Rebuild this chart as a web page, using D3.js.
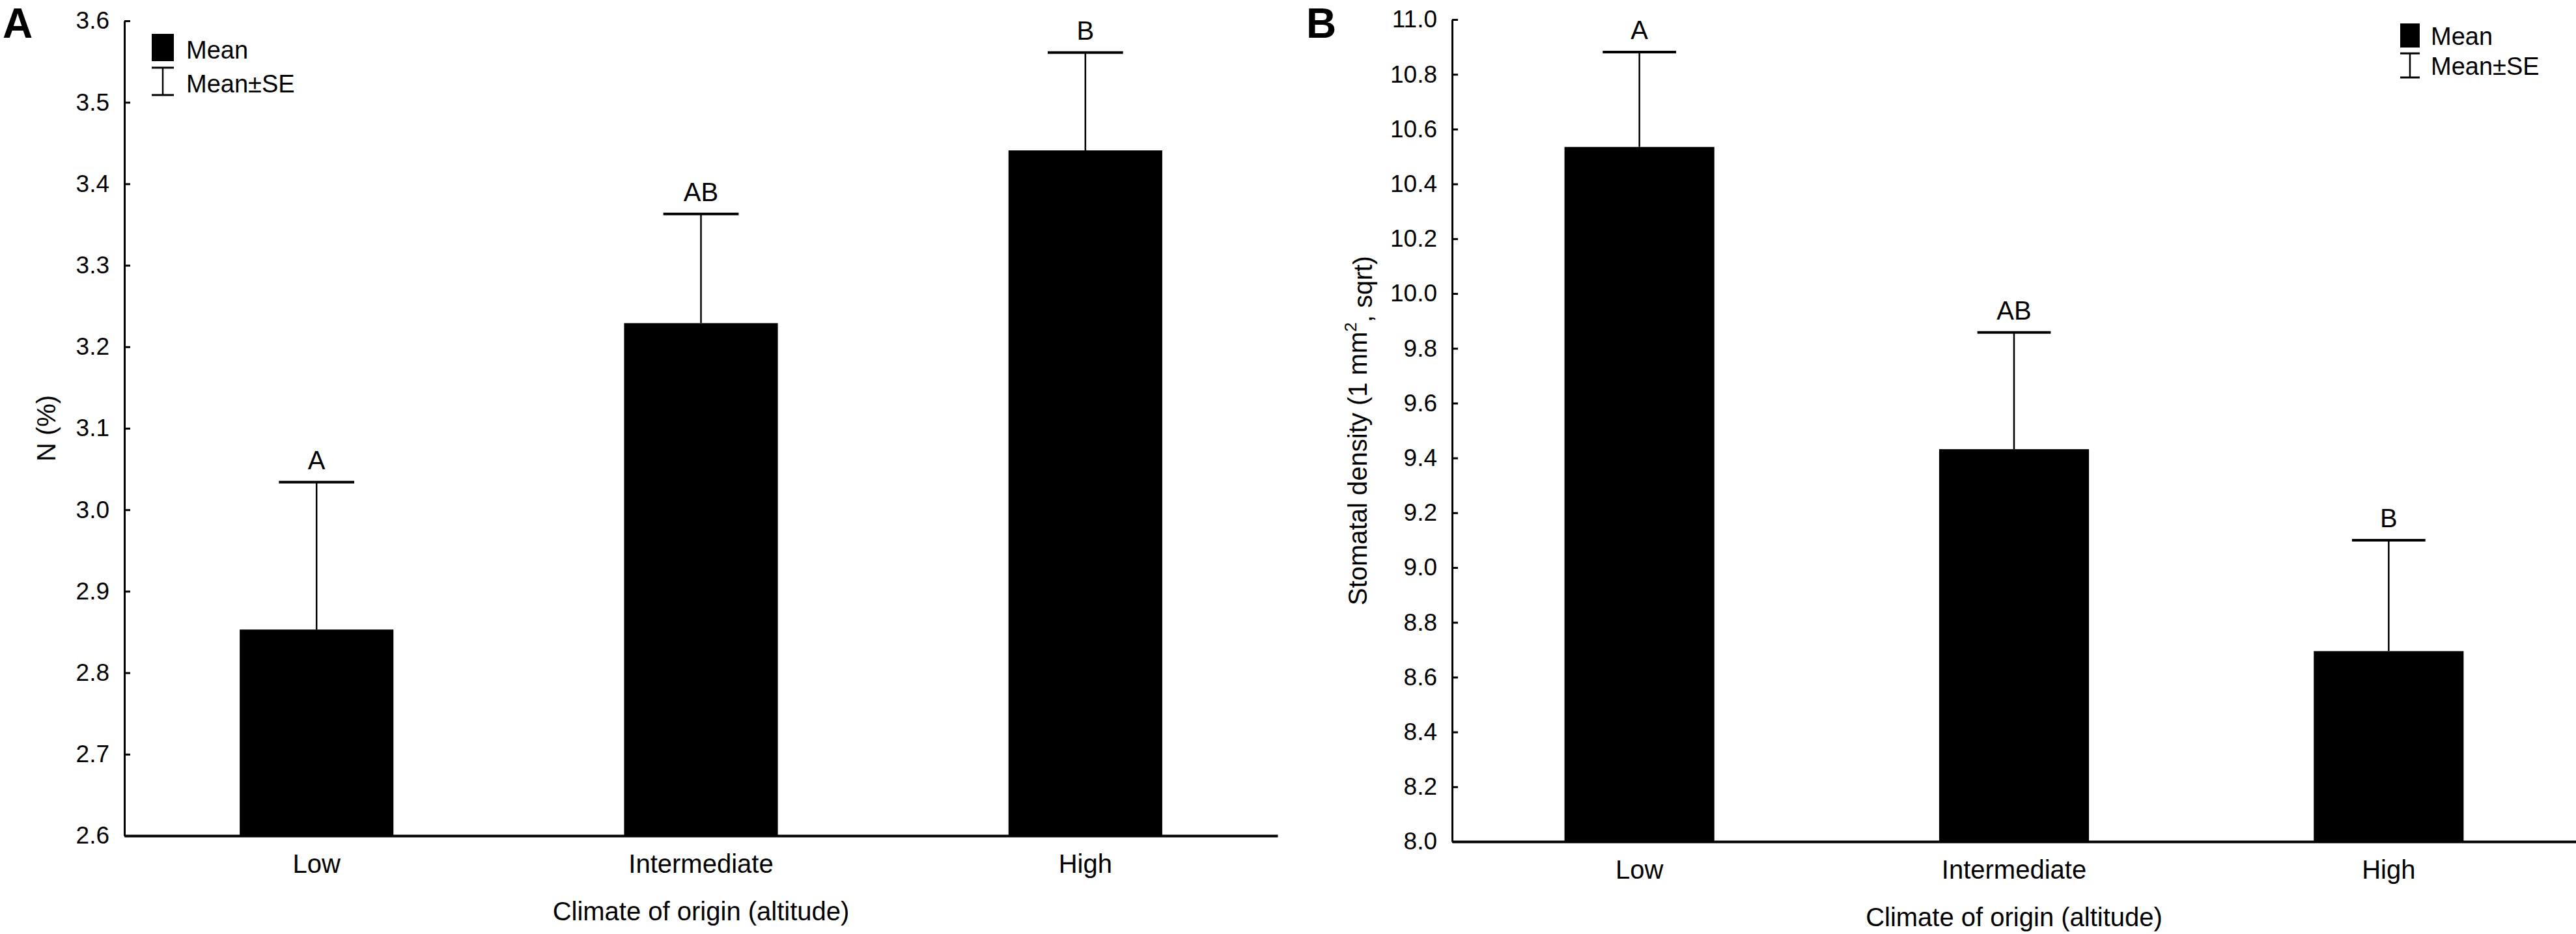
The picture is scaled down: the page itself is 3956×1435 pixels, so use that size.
<!DOCTYPE html>
<html>
<head>
<meta charset="utf-8">
<script src="https://cdn.jsdelivr.net/npm/d3@7"></script>
<style>
  body { margin: 0; background: #fff; }
  text { font-family: "Liberation Sans", Arial, sans-serif; fill: #000; }
</style>
</head>
<body>
<div id="chart"></div>
<script>
// categories shared by both panels
const categories = ["Low", "Intermediate", "High"];

// panel A: leaf nitrogen
const nMean = [2.853, 3.229, 3.441];
const nSE = [0.181, 0.134, 0.120];
const nLetters = ["A", "AB", "B"];
const nTicks = [2.6, 2.7, 2.8, 2.9, 3.0, 3.1, 3.2, 3.3, 3.4, 3.5, 3.6];

// panel B: stomatal density
const sdMean = [10.535, 9.432, 8.695];
const sdSE = [0.346, 0.426, 0.405];
const sdLetters = ["A", "AB", "B"];
const sdTicks = [8.0, 8.2, 8.4, 8.6, 8.8, 9.0, 9.2, 9.4, 9.6, 9.8, 10.0, 10.2, 10.4, 10.6, 10.8, 11.0];

const W = 3956, H = 1435;

const svg = d3.select("#chart")
    .append("svg")
    .attr("width", W)
    .attr("height", H);

const panels = [
    {
        tag: "A", mean: nMean, se: nSE, letters: nLetters, ticks: nTicks,
        left: 191, right: 1962, top: 32, bottom: 1284,
        tagX: 4, tagY: 58, ytitleX: 71,
        ytitle: [{t: "N (%)"}],
        legend: {x: 233, y: 52, w: 34, h: 42, gap: 10, tx: 286}
    },
    {
        tag: "B", mean: sdMean, se: sdSE, letters: sdLetters, ticks: sdTicks,
        left: 2230, right: 3956, top: 30, bottom: 1293,
        tagX: 2006, tagY: 58, ytitleX: 2085,
        ytitle: [{t: "Stomatal density (1 mm"}, {t: "2", sup: true}, {t: ", sqrt)"}],
        legend: {x: 3686, y: 36, w: 30, h: 37, gap: 9, tx: 3733}
    }
];

panels.forEach(function(p) {
    const g = svg.append("g");

    const x = d3.scaleBand()
        .domain(categories)
        .range([p.left, p.right])
        .paddingInner(0.6)
        .paddingOuter(0.3);

    const y = d3.scaleLinear()
        .domain([p.ticks[0], p.ticks[p.ticks.length - 1]])
        .range([p.bottom, p.top]);

    const rows = categories.map((c, i) => ({cat: c, mean: p.mean[i], se: p.se[i], letter: p.letters[i]}));

    // bars
    g.append("g")
        .selectAll("rect")
        .data(rows)
        .join("rect")
        .attr("x", d => x(d.cat))
        .attr("y", d => y(d.mean))
        .attr("width", x.bandwidth())
        .attr("height", d => y(p.ticks[0]) - y(d.mean))
        .attr("fill", "#000");

    // upper error bars
    const capW = x.bandwidth() * 0.49;
    const eb = g.append("g").selectAll("g").data(rows).join("g");
    eb.append("line")
        .attr("x1", d => x(d.cat) + x.bandwidth() / 2)
        .attr("x2", d => x(d.cat) + x.bandwidth() / 2)
        .attr("y1", d => y(d.mean))
        .attr("y2", d => y(d.mean + d.se))
        .attr("stroke", "#000")
        .attr("stroke-width", 2.5);
    eb.append("line")
        .attr("x1", d => x(d.cat) + x.bandwidth() / 2 - capW / 2)
        .attr("x2", d => x(d.cat) + x.bandwidth() / 2 + capW / 2)
        .attr("y1", d => y(d.mean + d.se))
        .attr("y2", d => y(d.mean + d.se))
        .attr("stroke", "#000")
        .attr("stroke-width", 4);

    // significance letters
    g.append("g")
        .selectAll("text")
        .data(rows)
        .join("text")
        .attr("x", d => x(d.cat) + x.bandwidth() / 2)
        .attr("y", d => y(d.mean + d.se) - 20)
        .attr("text-anchor", "middle")
        .style("font-size", "40px")
        .text(d => d.letter);

    // y axis
    const yAxis = g.append("g")
        .attr("transform", `translate(${p.left},0)`)
        .call(d3.axisLeft(y)
            .tickValues(p.ticks)
            .tickFormat(d3.format(".1f"))
            .tickSizeInner(-9)
            .tickSizeOuter(0)
            .tickPadding(23));
    yAxis.select(".domain").attr("stroke-width", 3);
    yAxis.selectAll(".tick line").attr("stroke-width", 3);
    yAxis.selectAll("text")
        .style("font-size", "37px")
        .style("font-family", "'Liberation Sans', Arial, sans-serif");

    // x axis
    const xAxis = g.append("g")
        .attr("transform", `translate(0,${p.bottom})`)
        .call(d3.axisBottom(x).tickSize(0).tickPadding(29));
    xAxis.select(".domain").attr("stroke-width", 4);
    xAxis.selectAll("text")
        .style("font-size", "40px")
        .style("font-family", "'Liberation Sans', Arial, sans-serif");

    // x title
    g.append("text")
        .attr("x", (p.left + p.right) / 2)
        .attr("y", p.bottom + 130)
        .attr("text-anchor", "middle")
        .style("font-size", "40px")
        .text("Climate of origin (altitude)");

    // y title
    const yt = g.append("text")
        .attr("transform", `translate(${p.ytitleX},${(p.top + p.bottom) / 2}) rotate(-90)`)
        .attr("text-anchor", "middle")
        .attr("dy", "0.35em")
        .style("font-size", "40px");
    p.ytitle.forEach(function(s) {
        const ts = yt.append("tspan").text(s.t);
        if (s.sup) ts.attr("dy", "-0.6em").style("font-size", "26px");
        else if (yt.selectAll("tspan").size() > 1) ts.attr("dy", "0.6em");
    });

    // panel tag
    g.append("text")
        .attr("x", p.tagX)
        .attr("y", p.tagY)
        .style("font-size", "64px")
        .style("font-weight", "bold")
        .text(p.tag);

    // legend
    const L = p.legend;
    g.append("rect")
        .attr("x", L.x).attr("y", L.y)
        .attr("width", L.w).attr("height", L.h)
        .attr("fill", "#000");
    g.append("text")
        .attr("x", L.tx).attr("y", L.y + L.h - 4)
        .style("font-size", "38px")
        .text("Mean");
    const ey0 = L.y + L.h + L.gap, ey1 = ey0 + L.h;
    g.append("line")
        .attr("x1", L.x + L.w / 2).attr("x2", L.x + L.w / 2)
        .attr("y1", ey0).attr("y2", ey1)
        .attr("stroke", "#000").attr("stroke-width", 2.5);
    [ey0, ey1].forEach(function(yy) {
        g.append("line")
            .attr("x1", L.x).attr("x2", L.x + L.w)
            .attr("y1", yy).attr("y2", yy)
            .attr("stroke", "#000").attr("stroke-width", 3);
    });
    g.append("text")
        .attr("x", L.tx).attr("y", ey1 - 4)
        .style("font-size", "38px")
        .text("Mean±SE");
});
</script>
</body>
</html>
